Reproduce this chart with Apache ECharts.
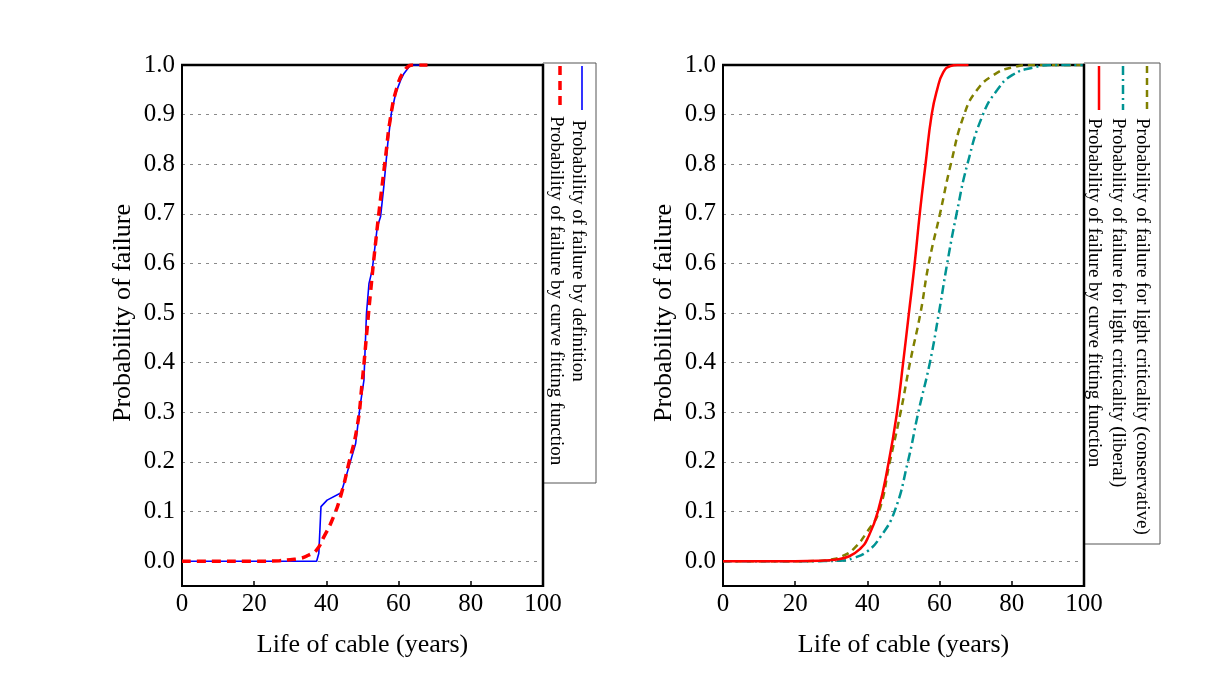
<!DOCTYPE html>
<html>
<head>
<meta charset="utf-8">
<script src="https://cdn.jsdelivr.net/npm/echarts@6/dist/echarts.min.js"></script>
<style>html,body{margin:0;padding:0;background:#fff}#c{width:1205px;height:688px}</style>
</head>
<body>
<div id="c"></div>
<script>
// ---- data ----
var xTicks = [0, 20, 40, 60, 80, 100];
var yTicks = [0.0, 0.1, 0.2, 0.3, 0.4, 0.5, 0.6, 0.7, 0.8, 0.9, 1.0];

// left panel
var xDefinition = [0, 37.3, 37.9, 38.5, 40.2, 44.1, 45.7, 48.1, 49.3, 50.4, 51.1, 51.8, 52.7, 54.1, 55.0, 55.9, 57.0, 58.0, 59.2, 60.6, 61.5, 63.3, 66];
var yDefinition = [0, 0, 0.016, 0.11, 0.123, 0.138, 0.177, 0.237, 0.311, 0.365, 0.499, 0.56, 0.587, 0.674, 0.694, 0.755, 0.842, 0.903, 0.943, 0.97, 0.983, 1.0, 1.0];
var xFitLeft = [0, 20, 27, 30, 33, 35, 37.2, 39.3, 41.6, 43.9, 46.2, 48.5, 49.9, 51.3, 52.2, 53.6, 55.0, 56.4, 57.8, 59.6, 61.5, 63.8, 68];
var yFitLeft = [0, 0, 0.001, 0.003, 0.006, 0.012, 0.022, 0.049, 0.083, 0.13, 0.197, 0.27, 0.36, 0.47, 0.54, 0.64, 0.73, 0.815, 0.896, 0.956, 0.987, 1.0, 1.0];

// right panel
var xFitRight = [0, 20, 27, 31, 35, 38, 40, 42.9, 45.9, 48.2, 49.9, 51.5, 53.1, 54.5, 56.1, 57.8, 59.3, 61, 63, 65, 68];
var yFitRight = [0, 0, 0.001, 0.003, 0.01, 0.025, 0.045, 0.1, 0.2, 0.3, 0.4, 0.5, 0.6, 0.7, 0.8, 0.9, 0.95, 0.985, 0.998, 1.0, 1.0];
var xConservative = [0, 20, 26, 29.7, 33, 36.2, 40, 43.2, 46.2, 49.2, 51.8, 54.7, 57.0, 60.1, 63.1, 66.8, 70.4, 75, 80, 86, 100];
var yConservative = [0, 0, 0.0005, 0.003, 0.01, 0.025, 0.06, 0.1, 0.2, 0.3, 0.4, 0.5, 0.6, 0.7, 0.8, 0.9, 0.95, 0.98, 0.995, 1.0, 1.0];
var xLiberal = [0, 20, 28, 32.5, 36, 40, 43.6, 47.5, 51.2, 54.1, 57.3, 59.8, 62.1, 64.7, 67.7, 72.0, 76, 80.2, 86, 92, 100];
var yLiberal = [0, 0, 0.0002, 0.001, 0.006, 0.02, 0.049, 0.1, 0.2, 0.3, 0.4, 0.5, 0.6, 0.7, 0.8, 0.9, 0.95, 0.98, 0.995, 1.0, 1.0];

var legendLeft = ['Probability of failure by definition', 'Probability of failure by curve fitting function'];
var legendRight = ['Probability of failure for light criticality (conservative)', 'Probability of failure for light criticality (liberal)', 'Probability of failure by curve fitting function'];

function pairs(xs, ys) { return xs.map(function (x, i) { return [x, ys[i]]; }); }

var FONT = '"Liberation Serif", "Times New Roman", serif';
var C_BLUE = '#0000ff', C_RED = '#ff0000', C_OLIVE = '#808000', C_TEAL = '#009393';

var panels = [{ left: 182 }, { left: 723 }];
var grids = [], xAxes = [], yAxes = [];
panels.forEach(function (p, k) {
  grids.push({ left: p.left, top: 65, width: 361, height: 521, show: true, borderColor: '#000', borderWidth: 2, backgroundColor: 'transparent' });
  grids.push({ left: p.left, top: 65, width: 361, height: 496 });
  xAxes.push({
    gridIndex: 2 * k, type: 'value', min: 0, max: 100, interval: 20,
    name: 'Life of cable (years)', nameLocation: 'middle', nameGap: 46,
    nameTextStyle: { fontFamily: FONT, fontSize: 26, color: '#000' },
    axisLine: { show: true, onZero: false, lineStyle: { color: '#000', width: 2 } },
    axisTick: { show: true, inside: true, length: 5, lineStyle: { color: '#000', width: 1.5 } },
    axisLabel: { fontFamily: FONT, fontSize: 25, color: '#000', margin: 6, formatter: function (v) { return xTicks.indexOf(v) >= 0 ? String(v) : ''; } },
    splitLine: { show: false }
  });
  xAxes.push({ gridIndex: 2 * k + 1, type: 'value', min: 0, max: 100, show: false });
  yAxes.push({
    gridIndex: 2 * k, type: 'value', min: -0.05, max: 1,
    axisLine: { show: true, onZero: false, lineStyle: { color: '#000', width: 2 } },
    axisTick: { show: false }, axisLabel: { show: false }, splitLine: { show: false }
  });
  yAxes.push({
    gridIndex: 2 * k + 1, type: 'value', min: 0, max: 1, interval: 0.1,
    name: 'Probability of failure', nameLocation: 'middle', nameGap: 46,
    nameTextStyle: { fontFamily: FONT, fontSize: 26, color: '#000' },
    axisLine: { show: false }, axisTick: { show: false },
    axisLabel: { fontFamily: FONT, fontSize: 25, color: '#000', margin: 7, formatter: function (v) { return v.toFixed(1); } },
    splitLine: { show: true, lineStyle: { color: '#8a8a8a', width: 1, type: [3, 5] } }
  });
});

function lineSeries(xi, yi, data, color, width, dash, smooth) {
  return {
    type: 'line', xAxisIndex: xi, yAxisIndex: yi, data: data, showSymbol: false, symbol: 'none',
    smooth: smooth ? 0.5 : false, animation: false,
    lineStyle: { color: color, width: width, type: dash }, z: 3
  };
}

var series = [
  lineSeries(0, 0, pairs(xDefinition, yDefinition), C_BLUE, 1.6, 'solid', false),
  lineSeries(0, 0, pairs(xFitLeft, yFitLeft), C_RED, 3.5, [9, 6], true),
  lineSeries(2, 2, pairs(xConservative, yConservative), C_OLIVE, 2.5, [7, 5], true),
  lineSeries(2, 2, pairs(xLiberal, yLiberal), C_TEAL, 2.5, [9, 4, 2, 4], true),
  lineSeries(2, 2, pairs(xFitRight, yFitRight), C_RED, 2.5, 'solid', true)
];

function legendText(x, y, text) {
  return { type: 'text', x: x, y: y, rotation: -Math.PI / 2, z: 100,
    style: { text: text, font: '19px ' + FONT, fill: '#000', align: 'left', verticalAlign: 'middle' } };
}
function legendLine(x, color, width, dash) {
  return { type: 'line', z: 100, shape: { x1: x, y1: 66, x2: x, y2: 110 },
    style: { stroke: color, lineWidth: width, lineDash: dash } };
}
function frameLine(x1, y1, x2, y2, z) {
  return { type: 'line', z: z, shape: { x1: x1, y1: y1, x2: x2, y2: y2 }, style: { stroke: '#000', lineWidth: 2.5 } };
}

var graphic = [
  frameLine(181, 65, 544, 65, 1),
  frameLine(722, 65, 1085, 65, 1),
  { type: 'rect', z: 99, shape: { x: 543, y: 63, width: 53, height: 420 }, style: { fill: '#fff', stroke: '#555', lineWidth: 1 } },
  legendLine(582, C_BLUE, 1.6, null),
  legendLine(560, C_RED, 3.5, [9, 6]),
  legendText(578, 120, legendLeft[0]),
  legendText(556, 116, legendLeft[1]),
  { type: 'rect', z: 99, shape: { x: 1084, y: 63, width: 76, height: 481 }, style: { fill: '#fff', stroke: '#555', lineWidth: 1 } },
  legendLine(1147, C_OLIVE, 2.5, [7, 5]),
  legendLine(1123, C_TEAL, 2.5, [9, 4, 2, 4]),
  legendLine(1099, C_RED, 2.5, null),
  legendText(1142, 118, legendRight[0]),
  legendText(1118, 118, legendRight[1]),
  legendText(1094, 118, legendRight[2]),
  frameLine(543, 64, 543, 587, 101),
  frameLine(1084, 64, 1084, 587, 101)
];

var chart = echarts.init(document.getElementById('c'), null, { renderer: 'canvas' });
chart.setOption({
  animation: false,
  backgroundColor: '#fff',
  grid: grids, xAxis: xAxes, yAxis: yAxes, series: series, graphic: graphic
});
</script>
</body>
</html>
